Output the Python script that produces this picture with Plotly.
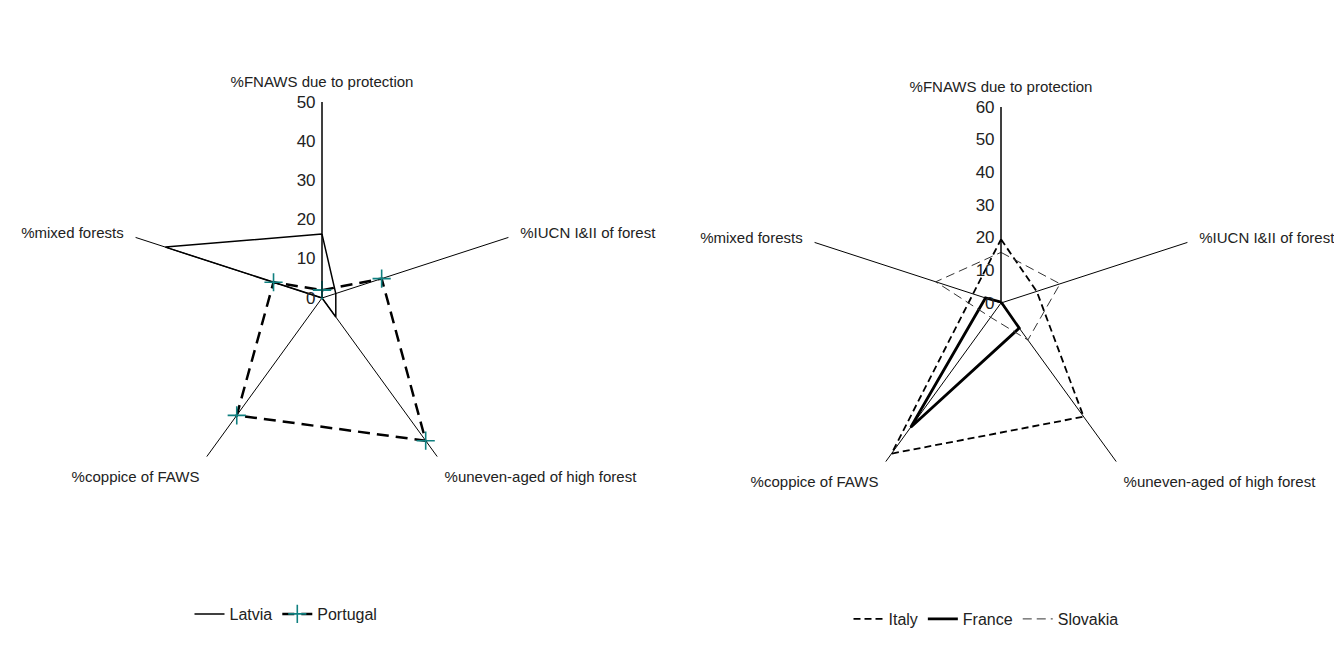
import plotly.graph_objects as go

categories = ["%FNAWS due to protection", "%IUCN I&II of forest",
              "%uneven-aged of high forest", "%coppice of FAWS", "%mixed forests"]

latvia = [16.3, 3.7, 6, 0, 42]
portugal = [2, 16, 45, 37, 13]

italy = [19.5, 11.5, 43, 57, 9]
france = [0.3, 0.2, 9.5, 47, 5]
slovakia = [15.5, 19, 14, 5.4, 21]

left_ticks = [0, 10, 20, 30, 40, 50]
right_ticks = [0, 10, 20, 30, 40, 50, 60]

FONT = "Liberation Sans"


def closed(vals):
    return list(vals) + [vals[0]]


theta = closed(categories)

fig = go.Figure()

fig.add_trace(go.Scatterpolar(
    r=closed(latvia), theta=theta, name="Latvia", mode="lines",
    line=dict(color="black", width=1.5), subplot="polar", legend="legend"))
fig.add_trace(go.Scatterpolar(
    r=closed(portugal), theta=theta, name="Portugal", mode="lines+markers",
    line=dict(color="black", width=2.5, dash="12px,7px"),
    marker=dict(symbol="cross-thin", size=13, line=dict(color="#108080", width=1.6)),
    subplot="polar", legend="legend"))

fig.add_trace(go.Scatterpolar(
    r=closed(italy), theta=theta, name="Italy", mode="lines",
    line=dict(color="black", width=1.8, dash="7px,4px"), subplot="polar2", legend="legend2"))
fig.add_trace(go.Scatterpolar(
    r=closed(france), theta=theta, name="France", mode="lines",
    line=dict(color="black", width=2.8), subplot="polar2", legend="legend2"))
fig.add_trace(go.Scatterpolar(
    r=closed(slovakia), theta=theta, name="Slovakia", mode="lines",
    line=dict(color="#333333", width=1, dash="9px,5px"), subplot="polar2", legend="legend2"))


def polar_cfg(xdom, ydom, rmax, ticks):
    return dict(
        domain=dict(x=xdom, y=ydom),
        bgcolor="white",
        radialaxis=dict(range=[0, rmax], tickvals=ticks, showgrid=False,
                        showline=True, linecolor="black", linewidth=1,
                        angle=90, ticks="", side="counterclockwise",
                        tickangle=90,
                        tickfont=dict(family=FONT, size=17, color="#222")),
        angularaxis=dict(rotation=90, direction="clockwise", showline=False,
                         showgrid=True, gridcolor="black", gridwidth=1,
                         ticks="outside", ticklen=9, tickcolor="rgba(0,0,0,0)",
                         tickfont=dict(family=FONT, size=15, color="#222"),
                         categoryorder="array", categoryarray=categories),
    )


R = 196
H = 647
W = 1342
cxl, cyl = 314, 290
cxr, cyr = 993, 295
fig.update_layout(
    width=W, height=H,
    paper_bgcolor="white", plot_bgcolor="white",
    margin=dict(l=0, r=0, t=0, b=0),
    polar=polar_cfg([(cxl - R) / W, (cxl + R) / W], [1 - (cyl + R) / H, 1 - (cyl - R) / H], 50, left_ticks),
    polar2=polar_cfg([(cxr - R) / W, (cxr + R) / W], [1 - (cyr + R) / H, 1 - (cyr - R) / H], 60, right_ticks),
    legend=dict(orientation="h", x=278 / W, y=1 - 606 / H, xanchor="center", yanchor="middle",
                font=dict(family=FONT, size=16, color="#222"), bgcolor="rgba(0,0,0,0)"),
    legend2=dict(orientation="h", x=978 / W, y=1 - 611 / H, xanchor="center", yanchor="middle",
                 font=dict(family=FONT, size=16, color="#222"), bgcolor="rgba(0,0,0,0)"),
    showlegend=True,
)

fig.write_html("out.html")
